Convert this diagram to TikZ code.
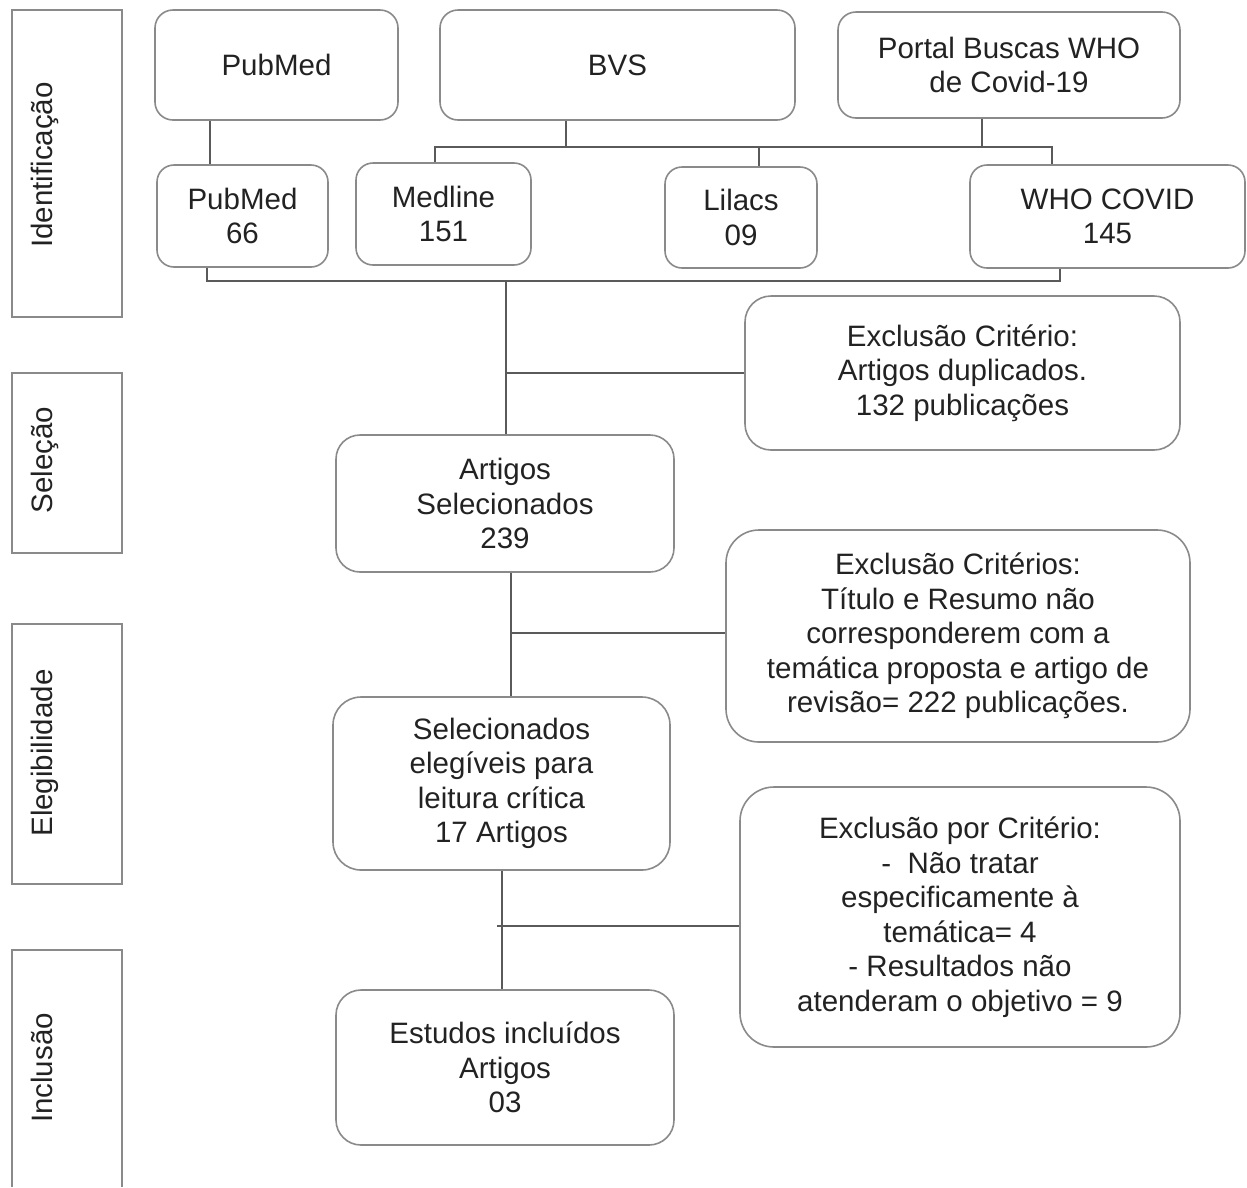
\documentclass[tikz,border=0pt]{standalone}
\usepackage{fontspec}
\setmainfont{Liberation Sans}
\definecolor{boxgray}{HTML}{8A8A8A}
\definecolor{linegray}{HTML}{5A5A5A}
\definecolor{txt}{HTML}{222222}
\newcommand{\bigtxt}{\fontsize{29.5pt}{34.5pt}\selectfont}
\begin{document}
\begin{tikzpicture}[x=1pt,y=-1pt,
  fbox/.style={draw=boxgray, line width=1.6pt, rounded corners=#1, align=center,
    inner sep=0pt, text=txt, font=\bigtxt},
  fbox/.default=18pt,
  side/.style={draw=boxgray, line width=1.8pt},
  sidelabel/.style={rotate=90, anchor=base, text=txt, font=\bigtxt, inner sep=0pt},
  conn/.style={draw=linegray, line width=1.6pt}
]
\useasboundingbox (0,0) rectangle (1247,1187);

% side phase boxes
\draw[side] (12,10) rectangle (122,317);
\draw[side] (12,373) rectangle (122,553);
\draw[side] (12,624) rectangle (122,884);
\draw[side] (12,1187) -- (12,950) -- (122,950) -- (122,1187);
\node[sidelabel] (lid) at (52,165) {Identificação};
\node[sidelabel] (lsel) at (52,460) {Seleção};
\node[sidelabel] (lele) at (52,753) {Elegibilidade};
\node[sidelabel] (linc) at (52,1068) {Inclusão};

% top row
\node[fbox=18pt, minimum width=243pt, minimum height=110pt] (pubmedT) at (276.5,65) {PubMed};
\node[fbox=18pt, minimum width=355pt, minimum height=110pt] (bvs) at (617.5,65) {BVS};
\node[fbox=18pt, minimum width=342pt, minimum height=106pt] (portal) at (1009,65) {Portal Buscas WHO\\de Covid-19};

% second row
\node[fbox=17pt, minimum width=171pt, minimum height=102pt] (pm66) at (242.5,216) {PubMed\\66};
\node[fbox=17pt, minimum width=175pt, minimum height=102pt] (medline) at (443.5,214) {Medline\\151};
\node[fbox=17pt, minimum width=152pt, minimum height=101pt] (lilacs) at (741,217.5) {Lilacs\\09};
\node[fbox=17pt, minimum width=275pt, minimum height=103pt] (who) at (1107.5,216.5) {WHO COVID\\145};

% flow
\node[fbox=26pt, minimum width=435pt, minimum height=154pt] (ex1) at (962.5,373) {Exclusão Critério:\\Artigos duplicados.\\132 publicações};
\node[fbox=24pt, minimum width=338pt, minimum height=137pt] (sel) at (505,503.5) {Artigos\\Selecionados\\239};
\node[fbox=33pt, minimum width=464pt, minimum height=212pt] (ex2) at (958,636) {Exclusão Critérios:\\Título e Resumo não\\corresponderem com a\\temática proposta e artigo de\\revisão= 222 publicações.};
\node[fbox=28pt, minimum width=337pt, minimum height=173pt] (eleg) at (501.5,783.5) {Selecionados\\elegíveis para\\leitura crítica\\17 Artigos};
\node[fbox=34pt, minimum width=440pt, minimum height=260pt] (ex3) at (960,917) {Exclusão por Critério:\\-\ \ Não tratar\\especificamente à\\temática= 4\\- Resultados não\\atenderam o objetivo = 9};
\node[fbox=25pt, minimum width=338pt, minimum height=155pt] (incl) at (505,1067.5) {Estudos incluídos\\Artigos\\03};

% connector junctions
\coordinate (jpm) at (210,142);
\coordinate (jbvs) at (566,147);
\coordinate (hL) at (435,147);
\coordinate (hR) at (1052,147);
\coordinate (jlil) at (759,147);
\coordinate (jpor) at (982,147);
\coordinate (bL) at (207,281);
\coordinate (bR) at (1060,281);
\coordinate (bM) at (506,281);
\coordinate (e1) at (506,373);
\coordinate (c2) at (511,633);
\coordinate (c3) at (502,926);
\coordinate (c3s) at (497,926);

% connectors
\draw[conn] (pubmedT.south -| jpm) -- (pm66.north -| jpm);
\draw[conn] (bvs.south -| jbvs) -- (jbvs);
\draw[conn] (medline.north -| hL) -- (hL) -- (hR) -- (who.north -| hR);
\draw[conn] (lilacs.north -| jlil) -- (jlil);
\draw[conn] (portal.south -| jpor) -- (jpor);
\draw[conn] (pm66.south -| bL) -- (bL) -- (bR) -- (who.south -| bR);
\draw[conn] (bM) -- (sel.north -| bM);
\draw[conn] (e1) -- (ex1.west |- e1);
\draw[conn] (sel.south -| c2) -- (eleg.north -| c2);
\draw[conn] (c2) -- (ex2.west |- c2);
\draw[conn] (eleg.south -| c3) -- (incl.north -| c3);
\draw[conn] (c3s) -- (ex3.west |- c3s);
\end{tikzpicture}
\end{document}
